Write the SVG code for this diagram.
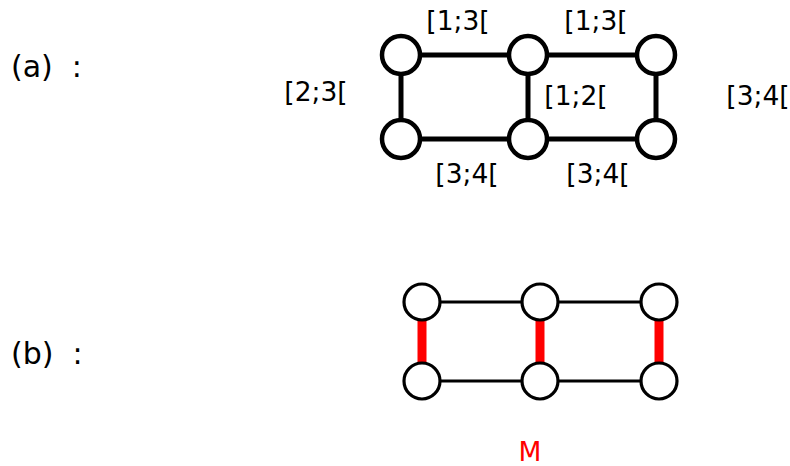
<svg xmlns="http://www.w3.org/2000/svg" width="790" height="466" viewBox="0 0 790 466">
<style>
text{font-family:"DejaVu Sans",sans-serif;fill:#000}
.lbl{font-size:26.5px}
.part{font-size:30px}
.ea{stroke:#000;stroke-width:5}
.eb{stroke:#000;stroke-width:3}
.em{stroke:#ff0000;stroke-width:9}
.na{fill:#fff;stroke:#000;stroke-width:4.5}
.nb{fill:#fff;stroke:#000;stroke-width:3.2}
</style>
<rect width="790" height="466" fill="#fff"/>
<text class="part" x="11" y="77" xml:space="preserve">(a)  :</text>
<text class="part" x="11" y="364" xml:space="preserve">(b)  :</text>
<g id="connectors">
<line class="ea" x1="401" y1="55" x2="528" y2="55"/>
<line class="ea" x1="528" y1="55" x2="656" y2="55"/>
<line class="ea" x1="401" y1="139" x2="528" y2="139"/>
<line class="ea" x1="528" y1="139" x2="656" y2="139"/>
<line class="ea" x1="401" y1="55" x2="401" y2="139"/>
<line class="ea" x1="528" y1="55" x2="528" y2="139"/>
<line class="ea" x1="656" y1="55" x2="656" y2="139"/>
<line class="eb" x1="422" y1="302" x2="540" y2="302"/>
<line class="eb" x1="540" y1="302" x2="659" y2="302"/>
<line class="eb" x1="422" y1="381" x2="540" y2="381"/>
<line class="eb" x1="540" y1="381" x2="659" y2="381"/>
<line class="em" x1="422" y1="302" x2="422" y2="381"/>
<line class="em" x1="540" y1="302" x2="540" y2="381"/>
<line class="em" x1="659" y1="302" x2="659" y2="381"/>
</g>
<g id="a1"><circle class="na" cx="401" cy="55" r="19"/></g>
<g id="a2"><circle class="na" cx="528" cy="55" r="19"/></g>
<g id="a3"><circle class="na" cx="656" cy="55" r="19"/></g>
<g id="a4"><circle class="na" cx="401" cy="139" r="19"/></g>
<g id="a5"><circle class="na" cx="528" cy="139" r="19"/></g>
<g id="a6"><circle class="na" cx="656" cy="139" r="19"/></g>
<g id="b1"><circle class="nb" cx="422" cy="302" r="18"/></g>
<g id="b2"><circle class="nb" cx="540" cy="302" r="18"/></g>
<g id="b3"><circle class="nb" cx="659" cy="302" r="18"/></g>
<g id="b4"><circle class="nb" cx="422" cy="381" r="18"/></g>
<g id="b5"><circle class="nb" cx="540" cy="381" r="18"/></g>
<g id="b6"><circle class="nb" cx="659" cy="381" r="18"/></g>
<g id="labels">
<text class="lbl" x="458" y="30" text-anchor="middle">[1;3[</text>
<text class="lbl" x="596" y="30" text-anchor="middle">[1;3[</text>
<text class="lbl" x="316" y="101" text-anchor="middle">[2;3[</text>
<text class="lbl" x="576" y="105" text-anchor="middle">[1;2[</text>
<text class="lbl" x="758" y="105" text-anchor="middle">[3;4[</text>
<text class="lbl" x="467" y="183" text-anchor="middle">[3;4[</text>
<text class="lbl" x="598" y="183" text-anchor="middle">[3;4[</text>
<text class="lbl" x="530" y="461" text-anchor="middle" style="fill:#ff0000">M</text>
</g>
</svg>
